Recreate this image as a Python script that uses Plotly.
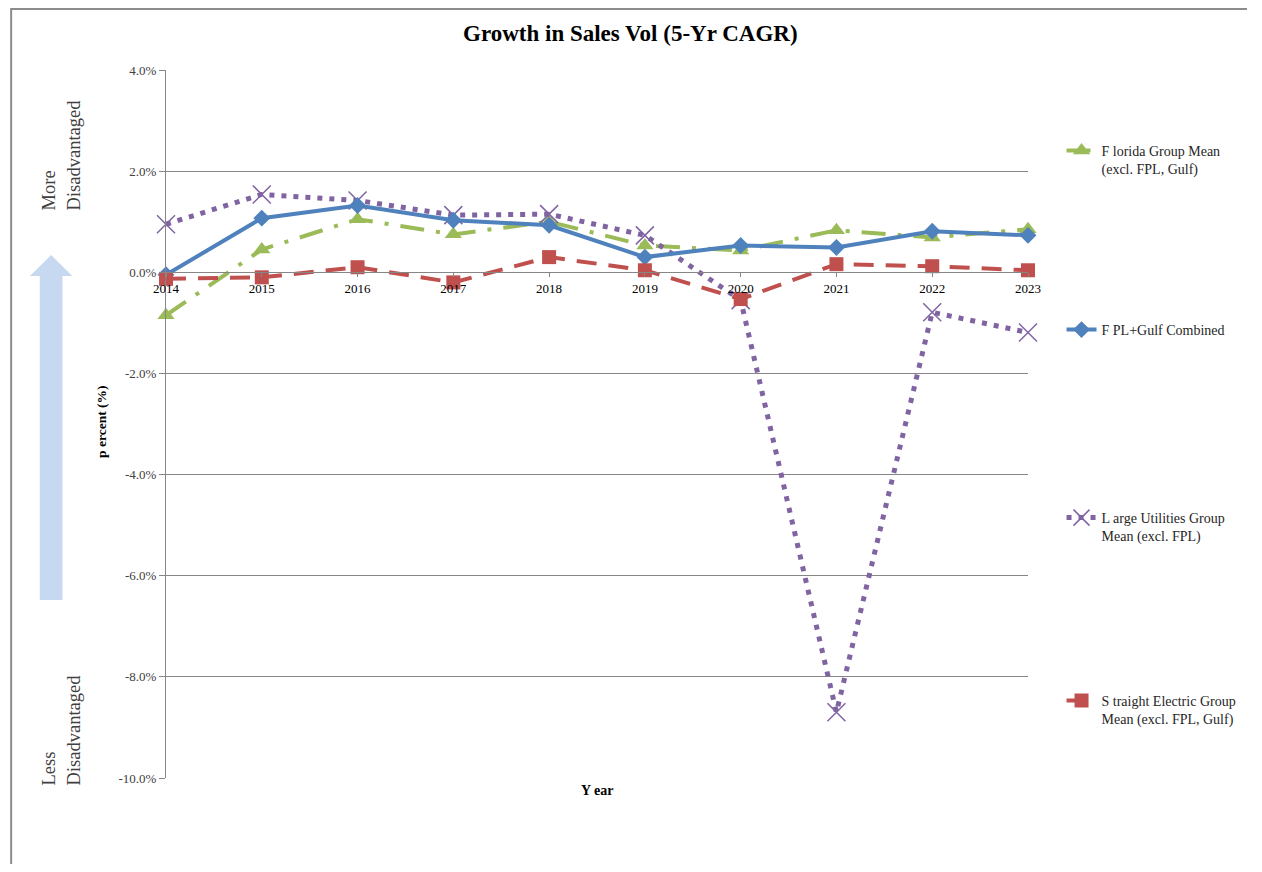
import plotly.graph_objects as go

years = [2014, 2015, 2016, 2017, 2018, 2019, 2020, 2021, 2022, 2023]
florida_mean = [-0.85, 0.45, 1.05, 0.75, 1.00, 0.53, 0.43, 0.83, 0.69, 0.85]
fpl_gulf = [-0.05, 1.07, 1.32, 1.03, 0.93, 0.30, 0.53, 0.49, 0.81, 0.73]
large_util = [0.95, 1.54, 1.42, 1.13, 1.15, 0.73, -0.55, -8.70, -0.79, -1.19]
straight_elec = [-0.13, -0.10, 0.10, -0.20, 0.30, 0.04, -0.53, 0.16, 0.12, 0.04]

y_ticks = [4, 2, 0, -2, -4, -6, -8, -10]
y_ticktext = ["4.0%", "2.0%", "0.0%", "-2.0%", "-4.0%", "-6.0%", "-8.0%", "-10.0%"]

names = [
    "F lorida Group Mean<br>(excl. FPL, Gulf)",
    "F PL+Gulf Combined",
    "L arge Utilities Group<br>Mean (excl. FPL)",
    "S traight Electric Group<br>Mean (excl. FPL, Gulf)",
]

OFF = 8  # default page body margin
W, H = 1262 - 2 * OFF, 872 - 2 * OFF
# plot area in screen pixels
SL, SR, ST, SB = 166, 1040, 70, 778
L, R, T, B = SL - OFF, SR - OFF, ST - OFF, SB - OFF


def px(x):
    return (x - SL) / (SR - SL)


def py(y):
    return (SB - y) / (SB - ST)


SERIF = "Liberation Serif, Times New Roman, serif"
fig = go.Figure()

fig.add_trace(go.Scatter(
    x=years, y=florida_mean, name=names[0], mode="lines+markers",
    line=dict(color="#9bbb59", width=4, dash="24px,12px,4px,12px"),
    marker=dict(symbol="triangle-up", size=15, color="#9bbb59"),
    cliponaxis=False, legend="legend",
))
fig.add_trace(go.Scatter(
    x=years, y=large_util, name=names[2], mode="lines+markers",
    line=dict(color="#8064a2", width=5, dash="5px,7px"),
    marker=dict(symbol="x-thin", size=18, color="#8064a2",
                line=dict(color="#8064a2", width=1.5)),
    cliponaxis=False, legend="legend3",
))
fig.add_trace(go.Scatter(
    x=years, y=fpl_gulf, name=names[1], mode="lines+markers",
    line=dict(color="#4f81bd", width=4),
    marker=dict(symbol="diamond", size=13, color="#4f81bd"),
    cliponaxis=False, legend="legend2",
))
fig.add_trace(go.Scatter(
    x=years, y=straight_elec, name=names[3], mode="lines+markers",
    line=dict(color="#c0504d", width=4, dash="20px,12px"),
    marker=dict(symbol="square", size=14, color="#c0504d"),
    cliponaxis=False, legend="legend4",
))

legfont = dict(family=SERIF, size=14, color="#262626")


def leg(ytop):
    return dict(x=px(1074), y=py(ytop), xanchor="left", yanchor="top",
                font=legfont, bgcolor="rgba(0,0,0,0)", valign="top",
                itemwidth=30)


shapes = [
    # outer border (left and top edges visible)
    dict(type="path", xref="paper", yref="paper",
         path="M {a},{b} L {a},{c} L {d},{c}".format(
             a=px(9), b=py(900), c=py(9), d=px(1262)),
         line=dict(color="#8c8c8c", width=2), layer="below"),
    # arrow
    dict(type="path", xref="paper", yref="paper",
         path=("M {a},{b} L {a},{c} L {d},{c} L {e},{f} L {g},{c} L {h},{c} L {h},{b} Z").format(
             a=px(38), b=py(600), c=py(276), d=px(28), e=px(49.5),
             f=py(255), g=px(71), h=px(61)),
         fillcolor="#c6d9f1", line=dict(width=0)),
]


def ann(text, x, y, size, color="#000000", angle=0, align="center"):
    return dict(text=text, x=px(x), y=py(y), xref="paper", yref="paper",
                xanchor="center", yanchor="middle", showarrow=False,
                textangle=angle, align=align,
                font=dict(family=SERIF, size=size, color=color))


annotations = [
    ann("<b>Growth in Sales Vol (5-Yr CAGR)</b>", 637, 33, 23),
    ann("<b>p ercent (%)</b>", 100, 422, 13.5, angle=-90),
    ann("<b>Y ear</b>", 604, 790, 14),
    ann("More<br>Disadvantaged", 60, 155, 18.5, color="#404040", angle=-90, align="left"),
    ann("Less<br>Disadvantaged", 60, 730, 18.5, color="#404040", angle=-90, align="left"),
]

fig.update_layout(
    width=W, height=H,
    margin=dict(l=L, r=W - R, t=T, b=H - B),
    paper_bgcolor="white", plot_bgcolor="white",
    showlegend=True,
    legend=leg(135),
    legend2=leg(314),
    legend3=leg(502),
    legend4=leg(685),
    shapes=shapes,
    annotations=annotations,
    xaxis=dict(
        range=[2014, 2023], tickvals=years, ticktext=[str(y) for y in years],
        anchor="free", position=10 / 14,
        showline=True, linecolor="#868686", linewidth=1,
        ticks="outside", ticklen=4, tickcolor="#868686",
        showgrid=False, zeroline=False,
        tickfont=dict(family=SERIF, size=13, color="#000000"),
    ),
    yaxis=dict(
        range=[-10, 4], tickvals=y_ticks, ticktext=y_ticktext,
        showline=True, linecolor="#868686", linewidth=1,
        ticks="outside", ticklen=6, tickcolor="#868686",
        showgrid=True, gridcolor="#868686", gridwidth=1, zeroline=False,
        tickfont=dict(family=SERIF, size=13, color="#404040"),
    ),
)

fig.write_html("out.html")
